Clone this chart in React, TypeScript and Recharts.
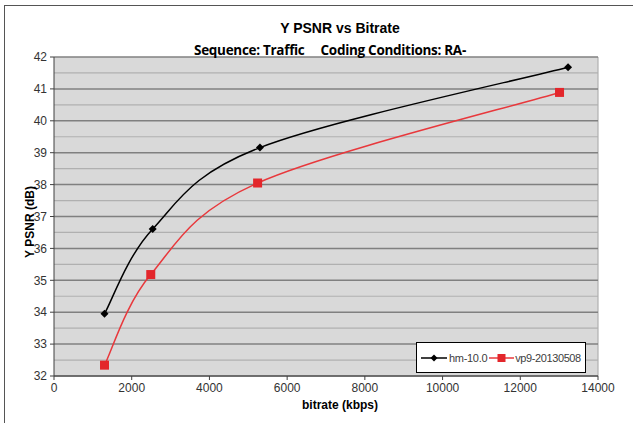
import React from 'react';
import { LineChart, Line, XAxis, YAxis, CartesianGrid } from 'recharts';

const hmBitrate = [1300, 2540, 5300, 13230];
const hmPsnr = [33.95, 36.61, 39.16, 41.68];
const vpBitrate = [1300, 2490, 5240, 13010];
const vpPsnr = [32.34, 35.18, 38.05, 40.89];
const xTicks = [0, 2000, 4000, 6000, 8000, 10000, 12000, 14000];
const yTicks = [32, 33, 34, 35, 36, 37, 38, 39, 40, 41, 42];
const yMinor = [32.5, 33.5, 34.5, 35.5, 36.5, 37.5, 38.5, 39.5, 40.5, 41.5];
const seriesNames = ['hm-10.0', 'vp9-20130508'];
const Y_MIN = 32;
const Y_MAX = 42;

const hmData = hmBitrate.map((x, i) => ({ x, y: hmPsnr[i] }));
const vpData = vpBitrate.map((x, i) => ({ x, y: vpPsnr[i] }));

const FONT = '"Liberation Sans", Arial, sans-serif';
const BLACK = '#000000';
const RED = '#e8383c';

// Excel-like smoothed curve (Catmull-Rom style Bezier)
function excelCurve(context: any) {
  let pts: number[][] = [];
  return {
    areaStart() {},
    areaEnd() {},
    lineStart() { pts = []; },
    point(x: number, y: number) { pts.push([+x, +y]); },
    lineEnd() {
      if (!pts.length) return;
      context.moveTo(pts[0][0], pts[0][1]);
      for (let i = 0; i < pts.length - 1; i++) {
        const p0 = pts[i - 1] || pts[i];
        const p1 = pts[i];
        const p2 = pts[i + 1];
        const p3 = pts[i + 2] || pts[i + 1];
        const c1x = p1[0] + (p2[0] - p0[0]) / 6;
        const c1y = p1[1] + (p2[1] - p0[1]) / 6;
        const c2x = p2[0] - (p3[0] - p1[0]) / 6;
        const c2y = p2[1] - (p3[1] - p1[1]) / 6;
        context.bezierCurveTo(c1x, c1y, c2x, c2y, p2[0], p2[1]);
      }
    },
  };
}

const Diamond = (props: any) => {
  const { cx, cy } = props;
  if (cx == null || cy == null) return null;
  const r = 4;
  return <path d={`M${cx},${cy - r}L${cx + r},${cy}L${cx},${cy + r}L${cx - r},${cy}Z`} fill={BLACK} />;
};
const Square = (props: any) => {
  const { cx, cy } = props;
  if (cx == null || cy == null) return null;
  return <rect x={cx - 4.5} y={cy - 4.5} width={9} height={9} fill="#e3262b" />;
};

const LegendBox = () => (
  <div
    style={{
      position: 'absolute',
      left: 416,
      top: 342,
      width: 170,
      height: 31,
      border: '1px solid #000',
      background: '#fff',
      boxSizing: 'border-box',
      display: 'flex',
      alignItems: 'center',
      fontFamily: FONT,
      fontSize: 11,
      color: '#404040',
      whiteSpace: 'nowrap',
      overflow: 'hidden',
    }}
  >
    <svg width={26} height={10} style={{ marginLeft: 4, flex: 'none' }}>
      <line x1={0} y1={5} x2={26} y2={5} stroke={BLACK} strokeWidth={1.5} />
      <path d="M13,1.5L16.5,5L13,8.5L9.5,5Z" fill={BLACK} />
    </svg>
    <span style={{ marginLeft: 2, letterSpacing: -0.3 }}>{seriesNames[0]}</span>
    <svg width={25} height={10} style={{ marginLeft: 2, flex: 'none' }}>
      <line x1={0} y1={5} x2={25} y2={5} stroke={RED} strokeWidth={1.5} />
      <rect x={8.5} y={1} width={8} height={8} fill="#e3262b" />
    </svg>
    <span style={{ marginLeft: 1, letterSpacing: -0.4 }}>{seriesNames[1]}</span>
  </div>
);

export default function App() {
  return (
    <div style={{ position: 'absolute', left: 0, top: 0, width: 633, height: 423, background: '#fff', overflow: 'hidden' }}>
      <div style={{ position: 'absolute', left: 4, top: 5, width: 700, height: 500, borderLeft: '1.5px solid #555', borderTop: '1.5px solid #555' }} />
      <div style={{ position: 'absolute', left: 0, top: 0 }}>
        <LineChart width={633} height={423} margin={{ top: 57, right: 35, bottom: 17, left: 14 }}>
          <CartesianGrid
            horizontal
            vertical
            fill="#d9d9d9"
            stroke="#b0b0b0"
            strokeWidth={1.2}
            horizontalCoordinatesGenerator={(p: any) =>
              yMinor.map((v) => p.offset.top + (p.offset.height * (Y_MAX - v)) / (Y_MAX - Y_MIN))
            }
            verticalCoordinatesGenerator={(p: any) => [p.offset.left + p.offset.width]}
          />
          <CartesianGrid horizontal vertical={false} stroke="#808080" strokeWidth={1.5} />
          <XAxis
            type="number"
            dataKey="x"
            domain={[0, 14000]}
            ticks={xTicks}
            interval={0}
            allowDuplicatedCategory={false}
            height={30}
            stroke="#404040"
            tickSize={4}
            tick={{ fontFamily: FONT, fontSize: 12, fill: '#333' }}
            tickMargin={3}
          />
          <YAxis
            type="number"
            dataKey="y"
            domain={[Y_MIN, Y_MAX]}
            ticks={yTicks}
            interval={0}
            width={40}
            stroke="#404040"
            tickSize={4}
            tick={{ fontFamily: FONT, fontSize: 12, fill: '#333' }}
            tickMargin={3}
          />
          <Line
            data={hmData}
            dataKey="y"
            name={seriesNames[0]}
            type={excelCurve as any}
            stroke={BLACK}
            strokeWidth={1.5}
            dot={<Diamond />}
            activeDot={false}
            isAnimationActive={false}
          />
          <Line
            data={vpData}
            dataKey="y"
            name={seriesNames[1]}
            type={excelCurve as any}
            stroke={RED}
            strokeWidth={1.5}
            dot={<Square />}
            activeDot={false}
            isAnimationActive={false}
          />
        </LineChart>
      </div>
      <div style={{ position: 'absolute', left: 240, width: 200, top: 20, textAlign: 'center', fontFamily: FONT, fontWeight: 'bold', fontSize: 14, color: '#000' }}>
        Y PSNR vs Bitrate
      </div>
      <div style={{ position: 'absolute', left: 130, width: 400, top: 41, textAlign: 'center', fontFamily: '"Open Sans", sans-serif', fontWeight: 'bold', fontSize: 13.5, letterSpacing: -0.3, color: '#000', whiteSpace: 'pre' }}>
        {'Sequence: Traffic     Coding Conditions: RA-'}
      </div>
      <div style={{ position: 'absolute', left: 290, width: 100, top: 398, textAlign: 'center', fontFamily: FONT, fontWeight: 'bold', fontSize: 12, color: '#000' }}>
        bitrate (kbps)
      </div>
      <div
        style={{
          position: 'absolute',
          left: 30,
          top: 222,
          transform: 'translate(-50%, -50%) rotate(-90deg)',
          fontFamily: FONT,
          fontWeight: 'bold',
          fontSize: 12,
          color: '#000',
          whiteSpace: 'nowrap',
        }}
      >
        Y PSNR (dB)
      </div>
      <LegendBox />
    </div>
  );
}
